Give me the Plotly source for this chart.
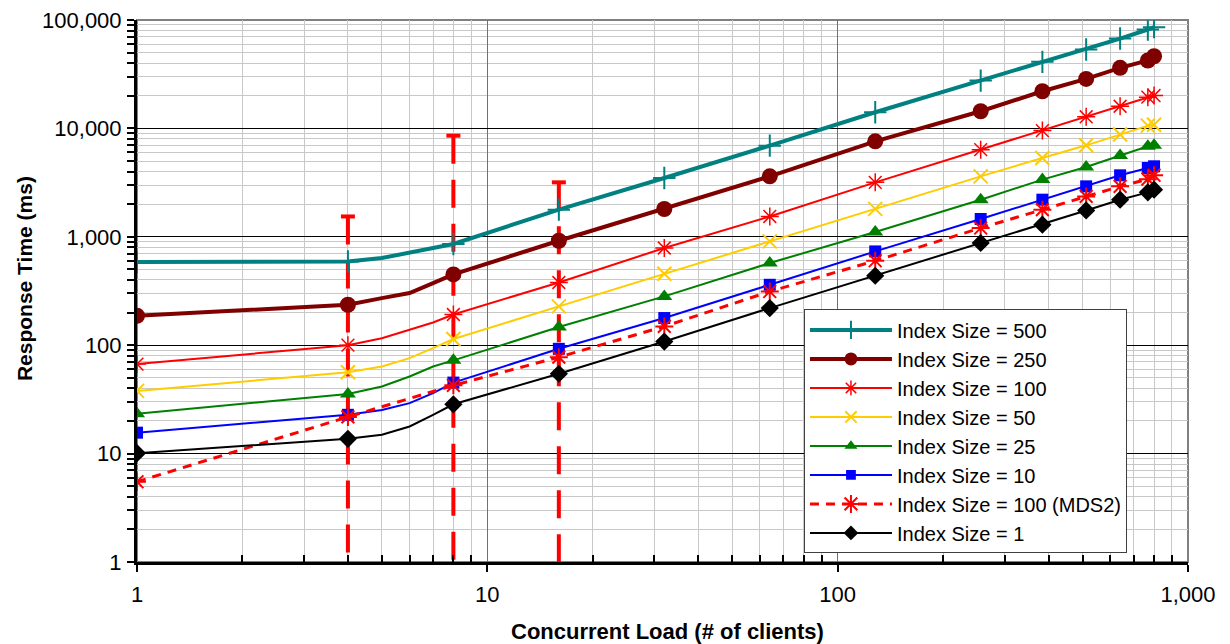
import plotly.graph_objects as go

# Concurrent load (number of clients); 5-7 are unmarked intermediate samples
load = [1, 4, 5, 6, 7, 8, 16, 32, 64, 128, 256, 384, 512, 640, 768, 800]
marked = [True, True, False, False, False, True, True, True, True, True, True, True, True, True, True, True]

# Response time (ms) for each index size
rt_500 = [585, 593, 637, 708, 788, 858, 1780, 3490, 6930, 14100, 27600, 41100, 53500, 67400, 81700, 85900]
rt_250 = [187, 236, 272, 303, 374, 450, 920, 1805, 3610, 7600, 14400, 22000, 28600, 36200, 42300, 46300]
rt_100 = [67, 100, 116, 139, 162, 192, 379, 788, 1540, 3180, 6370, 9550, 12800, 16000, 19400, 20100]
rt_50 = [37.9, 56.2, 63.6, 76, 94, 114, 228, 456, 907, 1810, 3610, 5340, 6980, 8770, 10600, 10800]
rt_25 = [23.3, 35.5, 41.6, 51.4, 63.6, 72.5, 147, 282, 573, 1107, 2200, 3370, 4400, 5610, 6840, 6980]
rt_10 = [15.6, 22.8, 25.3, 29.2, 36.1, 45.2, 92.6, 178, 361, 733, 1460, 2200, 2920, 3690, 4310, 4470]
rt_1 = [10.1, 13.7, 14.9, 17.8, 22.8, 28.5, 54.5, 108, 220, 437, 877, 1295, 1750, 2200, 2570, 2720]

# MDS2 run with index size 100
load_mds2 = [1, 4, 8, 16, 32, 64, 128, 256, 384, 512, 640, 768, 800]
rt_mds2 = [5.5, 21.8, 42.6, 77.6, 149, 313, 601, 1205, 1780, 2360, 2920, 3400, 3700]
# upper end of the MDS2 error bars at 4, 8 and 16 clients (lower ends fall off the axis)
err_load = [4, 8, 16]
err_top = [1540, 8570, 3180]
err_bottom = [0.5, 0.5, 0.5]

x_tick_vals = [1, 10, 100, 1000]
x_tick_labels = ["1", "10", "100", "1,000"]
y_tick_vals = [1, 10, 100, 1000, 10000, 100000]
y_tick_labels = ["1", "10", "100", "1,000", "10,000", "100,000"]

FONT = "Arial, Liberation Sans, Helvetica, sans-serif"

series = [
    ("Index Size = 500", rt_500, "#008080", 4,
     dict(symbol="cross-thin", size=16, line=dict(width=2, color="#008080"))),
    ("Index Size = 250", rt_250, "#800000", 4,
     dict(symbol="circle", size=16, line=dict(width=0, color="#800000"))),
    ("Index Size = 100", rt_100, "#FF0000", 2,
     dict(symbol="asterisk", size=15, line=dict(width=1.5, color="#FF0000"))),
    ("Index Size = 50", rt_50, "#FFCC00", 2,
     dict(symbol="x-thin", size=14, line=dict(width=2, color="#FFCC00"))),
    ("Index Size = 25", rt_25, "#008000", 2,
     dict(symbol="triangle-up", size=14, line=dict(width=0, color="#008000"))),
    ("Index Size = 10", rt_10, "#0000FF", 2,
     dict(symbol="square", size=12, line=dict(width=0, color="#0000FF"))),
]

fig = go.Figure()

# dashed error bars of the MDS2 run
err_x, err_y = [], []
for xv, top, bot in zip(err_load, err_top, err_bottom):
    err_x += [xv, xv, None]
    err_y += [top, bot, None]
fig.add_trace(go.Scatter(x=err_x, y=err_y, mode="lines", showlegend=False, hoverinfo="skip",
                         line=dict(color="#FF0000", width=4, dash="28px,16px")))
fig.add_trace(go.Scatter(x=err_load, y=err_top, mode="markers", showlegend=False, hoverinfo="skip",
                         marker=dict(symbol="line-ew", size=10, opacity=1,
                                     line=dict(width=4, color="#FF0000"))))


def sizes(base):
    return [base if m else 0 for m in marked]


for name, vals, color, width, mk in series:
    mk = dict(mk)
    mk["color"] = color
    mk["opacity"] = 1
    mk["size"] = sizes(mk["size"])
    fig.add_trace(go.Scatter(x=load, y=vals, name=name, mode="lines+markers",
                             line=dict(color=color, width=width), marker=mk))

fig.add_trace(go.Scatter(x=load_mds2, y=rt_mds2, name="Index Size = 100 (MDS2)", mode="lines+markers",
                         line=dict(color="#FF0000", width=3, dash="9px,7px"),
                         marker=dict(symbol="asterisk", size=15, color="#FF0000", opacity=1,
                                     line=dict(width=2, color="#FF0000"))))

fig.add_trace(go.Scatter(x=load, y=rt_1, name="Index Size = 1", mode="lines+markers",
                         line=dict(color="#000000", width=2),
                         marker=dict(symbol="diamond", size=sizes(14), color="#000000", opacity=1,
                                     line=dict(width=0, color="#000000"))))

minor_x = [m * 10 ** k for k in range(3) for m in range(2, 10)]
minor_y = [m * 10 ** k for k in range(5) for m in range(2, 10)]

fig.update_layout(
    width=1230, height=644,
    margin=dict(l=137, r=42, t=20, b=82, autoexpand=False),
    paper_bgcolor="white", plot_bgcolor="white",
    font=dict(family=FONT, size=22, color="black"),
    showlegend=True,
    legend=dict(x=0.6346, y=0.466, xanchor="left", yanchor="top",
                bgcolor="white", bordercolor="#404040", borderwidth=1,
                font=dict(family=FONT, size=20, color="black"),
                itemwidth=82, itemsizing="trace", tracegroupgap=0,
                entrywidth=355, entrywidthmode="pixels"),
    xaxis=dict(type="log", range=[0, 3], automargin=False,
               tickvals=x_tick_vals, ticktext=x_tick_labels,
               ticks="outside", ticklen=7, tickwidth=2, tickcolor="black",
               showline=True, linecolor="black", linewidth=3,
               showgrid=True, gridcolor="#707070", gridwidth=1,
               minor=dict(tickvals=minor_x, ticks="inside", ticklen=7, tickwidth=2, tickcolor="black",
                          showgrid=True, gridcolor="#c8c8c8", gridwidth=1),
               zeroline=False, ticklabelstandoff=4),
    yaxis=dict(type="log", range=[0, 5], automargin=False,
               tickvals=y_tick_vals, ticktext=y_tick_labels,
               ticks="outside", ticklen=7, tickwidth=2, tickcolor="black",
               showline=True, linecolor="black", linewidth=3,
               showgrid=True, gridcolor="black", gridwidth=1,
               minor=dict(tickvals=minor_y, ticks="outside", ticklen=7, tickwidth=2, tickcolor="black",
                          showgrid=True, gridcolor="#c8c8c8", gridwidth=1),
               zeroline=False, ticklabelstandoff=1),
    xaxis2=dict(type="log", range=[0, 3], overlaying="x", anchor="y", side="bottom", automargin=False,
                tickvals=x_tick_vals, showticklabels=False,
                ticks="inside", ticklen=7, tickwidth=2, tickcolor="black",
                showgrid=False, showline=False, zeroline=False),
    yaxis2=dict(type="log", range=[0, 5], overlaying="y", anchor="x", side="left", automargin=False,
                tickvals=y_tick_vals, showticklabels=False,
                ticks="inside", ticklen=7, tickwidth=2, tickcolor="black",
                minor=dict(tickvals=minor_y, ticks="inside", ticklen=7, tickwidth=2, tickcolor="black",
                           showgrid=False),
                showgrid=False, showline=False, zeroline=False),
    shapes=[dict(type="rect", xref="x domain", yref="y domain", x0=0, x1=1, y0=0, y1=1,
                 line=dict(color="#808080", width=2), layer="below")],
    annotations=[
        dict(text="<b>Concurrent Load (# of clients)</b>", xref="paper", yref="paper",
             x=0.5052, y=-0.129, xanchor="center", yanchor="middle", showarrow=False,
             font=dict(family=FONT, size=22, color="black")),
        dict(text="<b>Response Time (ms)</b>", xref="paper", yref="paper",
             x=-0.1075, y=0.522, xanchor="center", yanchor="middle", showarrow=False,
             textangle=-90, font=dict(family=FONT, size=21, color="black")),
    ],
)

fig.write_html("out.html")
